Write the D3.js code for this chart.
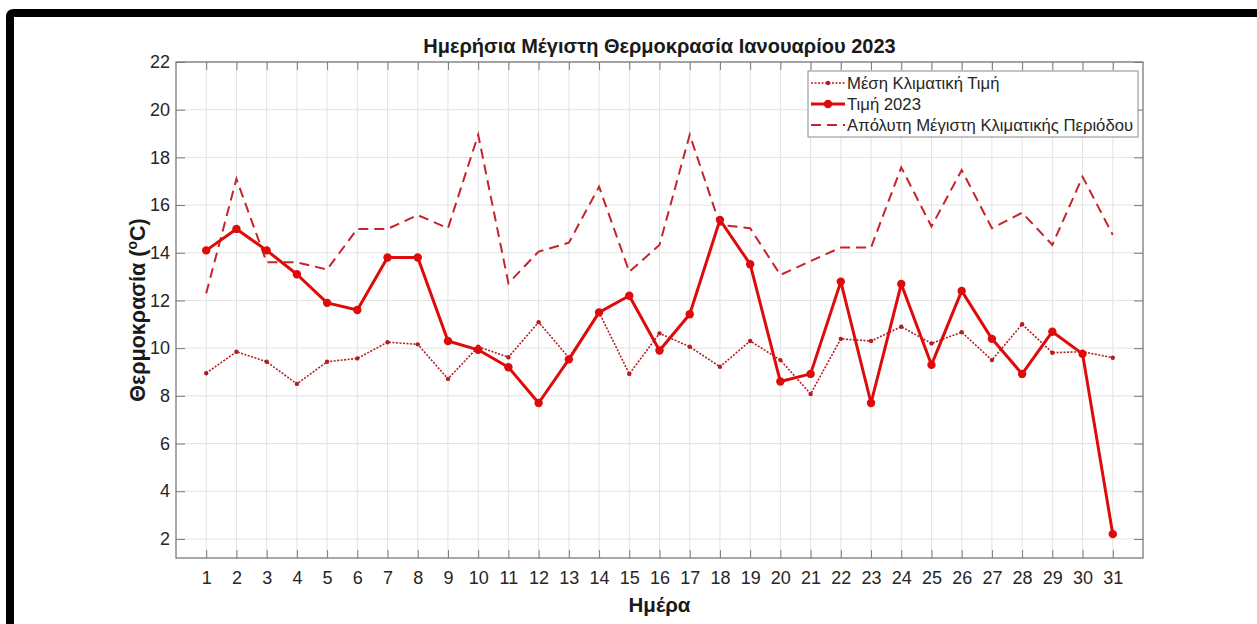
<!DOCTYPE html>
<html>
<head>
<meta charset="utf-8">
<script src="https://cdn.jsdelivr.net/npm/d3@7"></script>
<style>
  body { margin: 0; background: #fff; }
  svg { display: block; font-family: "Liberation Sans", Arial, sans-serif; }
</style>
</head>
<body>
<div id="chart"></div>
<script>
// data
const days = [1, 2, 3, 4, 5, 6, 7, 8, 9, 10, 11, 12, 13, 14, 15, 16, 17, 18, 19, 20, 21, 22, 23, 24, 25, 26, 27, 28, 29, 30, 31];
const meanClim = [8.95, 9.85, 9.43, 8.5, 9.43, 9.57, 10.25, 10.16, 8.71, 10.06, 9.62, 11.09, 9.6, 11.5, 8.92, 10.62, 10.06, 9.22, 10.3, 9.5, 8.08, 10.39, 10.3, 10.9, 10.2, 10.67, 9.5, 11.0, 9.81, 9.85, 9.6];
const val2023 = [14.1, 15.0, 14.1, 13.1, 11.9, 11.6, 13.8, 13.8, 10.3, 9.93, 9.2, 7.7, 9.53, 11.5, 12.2, 9.9, 11.42, 15.38, 13.52, 8.6, 8.92, 12.79, 7.7, 12.69, 9.3, 12.4, 10.39, 8.92, 10.69, 9.76, 2.2];
const absMax = [12.3, 17.1, 13.6, 13.6, 13.3, 15.0, 15.0, 15.58, 15.03, 18.95, 12.72, 14.05, 14.42, 16.77, 13.2, 14.33, 18.95, 15.17, 15.03, 13.07, 13.65, 14.22, 14.22, 17.58, 15.1, 17.47, 15.03, 15.68, 14.33, 17.19, 14.75];
const yTicks = [2, 4, 6, 8, 10, 12, 14, 16, 18, 20, 22];
const legendLabels = ["Μέση Κλιματική Τιμή", "Τιμή 2023", "Απόλυτη Μέγιστη Κλιματικής Περιόδου"];

const W = 1257, H = 624;
const pL = 176, pR = 1143, pT = 62, pB = 558;

const svg = d3.select("#chart").append("svg").attr("width", W).attr("height", H);

// black frame (top + left edge)
svg.append("path")
  .attr("d", `M6,624 L6,17 Q6,9 14,9 L1257,9 L1257,17 L14,17 L14,624 Z`)
  .attr("fill", "#000");

const x = d3.scaleLinear().domain([0, 32]).range([pL, pR]);
const y = d3.scaleLinear().domain([1.2, 22]).range([pB, pT]);

// grid
const grid = svg.append("g").attr("stroke", "#e3e3e3").attr("stroke-width", 1);
grid.selectAll(".gx").data(days).join("line")
  .attr("x1", d => x(d)).attr("x2", d => x(d)).attr("y1", pT).attr("y2", pB);
grid.selectAll(".gy").data(yTicks).join("line")
  .attr("y1", d => y(d)).attr("y2", d => y(d)).attr("x1", pL).attr("x2", pR);

// axes with inward ticks on all four sides
const tickColor = "#7a7a7a";
const axB = svg.append("g").attr("transform", `translate(0,${pB})`)
  .call(d3.axisBottom(x).tickValues(days).tickSizeInner(-8).tickSizeOuter(0).tickPadding(13));
const axT = svg.append("g").attr("transform", `translate(0,${pT})`)
  .call(d3.axisTop(x).tickValues(days).tickSizeInner(-8).tickSizeOuter(0).tickFormat(""));
const axL = svg.append("g").attr("transform", `translate(${pL},0)`)
  .call(d3.axisLeft(y).tickValues(yTicks).tickSizeInner(-9).tickSizeOuter(0).tickPadding(6));
const axR = svg.append("g").attr("transform", `translate(${pR},0)`)
  .call(d3.axisRight(y).tickValues(yTicks).tickSizeInner(-9).tickSizeOuter(0).tickFormat(""));
[axB, axT, axL, axR].forEach(a => {
  a.select(".domain").remove();
  a.selectAll("line").attr("stroke", tickColor);
  a.selectAll("text").attr("fill", "#262626").attr("font-size", 18)
    .attr("font-family", "Liberation Sans, Arial, sans-serif");
});
svg.append("rect").attr("x", pL).attr("y", pT).attr("width", pR - pL).attr("height", pB - pT)
  .attr("fill", "none").attr("stroke", tickColor).attr("stroke-width", 1.3);

// series
const cMean = "#b51c20", c2023 = "#dd0b0b", cAbs = "#c6232b";
const line = d3.line().x(d => x(d[0])).y(d => y(d[1]));
const zip = arr => days.map((d, i) => [d, arr[i]]);

svg.append("path").datum(zip(absMax)).attr("d", line)
  .attr("fill", "none").attr("stroke", cAbs).attr("stroke-width", 2).attr("stroke-dasharray", "10,6");

svg.append("path").datum(zip(meanClim)).attr("d", line)
  .attr("fill", "none").attr("stroke", cMean).attr("stroke-width", 1.6).attr("stroke-dasharray", "2,1.5");
svg.append("g").selectAll("circle").data(zip(meanClim)).join("circle")
  .attr("cx", d => x(d[0])).attr("cy", d => y(d[1])).attr("r", 2.2).attr("fill", cMean);

svg.append("path").datum(zip(val2023)).attr("d", line)
  .attr("fill", "none").attr("stroke", c2023).attr("stroke-width", 3).attr("stroke-linejoin", "round");
svg.append("g").selectAll("circle").data(zip(val2023)).join("circle")
  .attr("cx", d => x(d[0])).attr("cy", d => y(d[1])).attr("r", 4.2).attr("fill", c2023);

// legend
const lg = svg.append("g");
lg.append("rect").attr("x", 808).attr("y", 71).attr("width", 330).attr("height", 66)
  .attr("fill", "#fff").attr("stroke", "#8a8a8a").attr("stroke-width", 1);
const rows = [
  { c: cMean, w: 1.6, dash: "2,1.5", r: 2.2 },
  { c: c2023, w: 3, dash: null, r: 4.2 },
  { c: cAbs, w: 2, dash: "10,6", r: 0 }
];
rows.forEach((s, i) => {
  const cy = 83 + i * 21;
  lg.append("line").attr("x1", 811).attr("x2", 845).attr("y1", cy).attr("y2", cy)
    .attr("stroke", s.c).attr("stroke-width", s.w).attr("stroke-dasharray", s.dash);
  if (s.r) lg.append("circle").attr("cx", 828).attr("cy", cy).attr("r", s.r).attr("fill", s.c);
  lg.append("text").attr("x", 847).attr("y", cy).attr("dy", "0.36em")
    .attr("font-size", 16.7).attr("fill", "#262626").text(legendLabels[i]);
});

// title and axis labels
svg.append("text").attr("x", (pL + pR) / 2).attr("y", 53).attr("text-anchor", "middle")
  .attr("font-size", 20).attr("font-weight", "bold").attr("fill", "#1a1a1a")
  .text("Ημερήσια Μέγιστη Θερμοκρασία Ιανουαρίου 2023");
svg.append("text").attr("x", (pL + pR) / 2).attr("y", 612).attr("text-anchor", "middle")
  .attr("font-size", 20.5).attr("font-weight", "bold").attr("fill", "#1a1a1a").text("Ημέρα");
const yl = svg.append("text").attr("transform", `translate(145,${(pT + pB) / 2}) rotate(-90)`)
  .attr("text-anchor", "middle").attr("font-size", 21.5).attr("font-weight", "bold").attr("fill", "#1a1a1a");
yl.append("tspan").text("Θερμοκρασία (");
yl.append("tspan").attr("font-size", 14).attr("dy", -8).text("o");
yl.append("tspan").attr("dy", 8).text("C)");
</script>
</body>
</html>
